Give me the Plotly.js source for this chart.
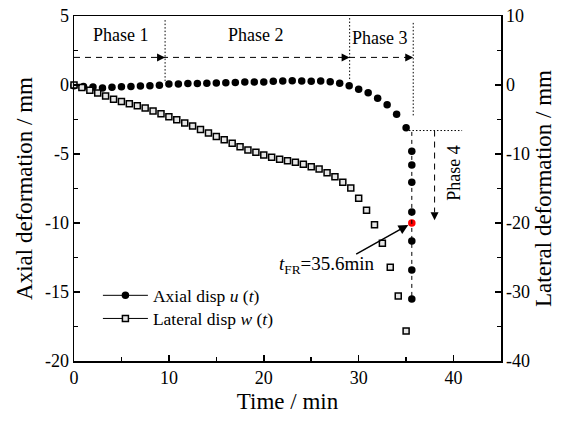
<!DOCTYPE html>
<html>
<head>
<meta charset="utf-8">
<script src="https://cdn.plot.ly/plotly-3.0.1.min.js"></script>
<style>html,body{margin:0;padding:0;background:#fff;}#chart{width:566px;height:421px;}</style>
</head>
<body>
<div id="chart"></div>
<script>
// ---- data ----
const axialTime = [0,1,2,3,4,5,6,7,8,9,10,11,12,13,14,15,16,17,18,19,20,21,22,23,24,25,26,27,28,29,30,31,32,33,34,35.0,35.6,35.6,35.6,35.6,35.6,35.6,35.6,35.6];
const axialDisp = [-0.05,-0.1,-0.15,-0.22,-0.17,-0.12,-0.1,-0.07,-0.05,-0.02,0.07,0.08,0.1,0.1,0.12,0.14,0.16,0.18,0.22,0.22,0.22,0.27,0.29,0.31,0.29,0.27,0.29,0.24,0.12,-0.05,-0.31,-0.56,-0.96,-1.43,-2.12,-3.1,-4.8,-5.8,-7.05,-9.2,-10.0,-11.3,-13.4,-15.5];
const failureIndex = 40; // t_FR = 35.6 min point (red)

const lateralTime = [0,0.83,1.67,2.5,3.33,4.17,5,5.83,6.67,7.5,8.33,9.17,10,10.83,11.67,12.5,13.33,14.17,15,15.83,16.67,17.5,18.33,19.17,20,20.83,21.67,22.5,23.33,24.17,25,25.83,26.67,27.5,28.33,29.17,30,30.83,31.67,32.5,33.33,34.17,35];
const lateralDisp = [0,-0.35,-0.75,-1.15,-1.6,-2.05,-2.4,-2.7,-3.0,-3.35,-3.75,-4.15,-4.6,-5.05,-5.5,-5.95,-6.45,-6.95,-7.45,-7.95,-8.45,-8.94,-9.42,-9.75,-10.14,-10.48,-10.77,-10.97,-11.2,-11.49,-11.84,-12.17,-12.71,-13.29,-14.1,-14.93,-16.42,-18.16,-20.25,-22.94,-26.42,-30.58,-35.65];

const xTicks = [0,10,20,30,40];
const xTickText = ['0','10','20','30','40'];
const xMinor = [5,15,25,35];
const yTicks = [-20,-15,-10,-5,0,5];
const yTickText = ['-20','-15','-10','-5','0','5'];
const yMinor = [-17.5,-12.5,-7.5,-2.5,2.5];
const y2Ticks = [-40,-30,-20,-10,0,10];
const y2TickText = ['-40','-30','-20','-10','0','10'];
const y2Minor = [-35,-25,-15,-5,5];

// phase boundaries (min)
const phaseBounds = [9.6, 29.05, 35.75];
const phaseLabels = ['Phase 1','Phase 2','Phase 3','Phase 4'];

const FONT = 'Liberation Serif';
const txt = (size)=>({family:FONT, size:size, color:'#000', weight:'normal', shadow:'none'});

const axialColors = axialDisp.map((v,i)=> i===failureIndex ? '#ff0000' : '#000000');

const traces = [
  {x: lateralTime, y: lateralDisp, yaxis:'y2', mode:'markers', type:'scatter', showlegend:false, cliponaxis:false,
   marker:{symbol:'square', size:6, color:'#e6e6e6', line:{color:'#000', width:1.5}}},
  {x: axialTime, y: axialDisp, mode:'markers', type:'scatter', showlegend:false, cliponaxis:false,
   marker:{symbol:'circle', size:7.5, color:axialColors, line:{width:0}}},
  // legend entries
  {x:[null], y:[null], mode:'lines+markers', type:'scatter', name:'Axial disp <i>u</i> (<i>t</i>)', legend:'legend',
   line:{color:'#000', width:1}, marker:{symbol:'circle', size:7.5, color:'#000'}},
  {x:[null], y:[null], mode:'lines+markers', type:'scatter', name:'Lateral disp <i>w</i> (<i>t</i>)', legend:'legend2',
   line:{color:'#000', width:1}, marker:{symbol:'square', size:6, color:'#e6e6e6', line:{color:'#000', width:1.5}}}
];

const dotted = {color:'#000', width:1, dash:'1.5px,2px'};
const dashed = {color:'#000', width:1, dash:'6px,5px'};

const shapes = [
  {type:'line', xref:'x', yref:'y', x0:phaseBounds[0], x1:phaseBounds[0], y0:4.7, y1:0.15, line:dotted},
  {type:'line', xref:'x', yref:'y', x0:phaseBounds[1], x1:phaseBounds[1], y0:4.85, y1:0.4, line:dotted},
  {type:'line', xref:'x', yref:'y', x0:phaseBounds[2], x1:phaseBounds[2], y0:4.5, y1:-2.3, line:dotted},
  {type:'line', xref:'x', yref:'y', x0:35.6, x1:35.6, y0:-3.4, y1:-15.5, line:{color:'#000', width:1, dash:'4px,4px'}},
  {type:'line', xref:'x', yref:'y', x0:35.3, x1:40.9, y0:-3.3, y1:-3.3, line:dotted},
  {type:'line', xref:'x', yref:'y', x0:0, x1:phaseBounds[2]-0.6, y0:2, y1:2, line:dashed},
  {type:'line', xref:'x', yref:'y', x0:38, x1:38, y0:-3.3, y1:-9.2, line:dashed}
];

const arrowHead = (x,y,ax,ay)=>({x:x, y:y, xref:'x', yref:'y', ax:ax, ay:ay, text:'', showarrow:true,
  arrowhead:2, arrowsize:1.6, arrowwidth:1, arrowcolor:'#000'});

const annotations = [
  arrowHead(phaseBounds[0],2,-9,0),
  arrowHead(phaseBounds[1],2,-9,0),
  arrowHead(phaseBounds[2],2,-9,0),
  arrowHead(38,-9.8,0,-9),
  {x:4.95, y:3.62, xref:'x', yref:'y', text:phaseLabels[0], showarrow:false, font:txt(18)},
  {x:19.2, y:3.62, xref:'x', yref:'y', text:phaseLabels[1], showarrow:false, font:txt(18)},
  {x:32.3, y:3.38, xref:'x', yref:'y', text:phaseLabels[2], showarrow:false, font:txt(18)},
  {x:40.1, y:-6.4, xref:'x', yref:'y', text:phaseLabels[3], textangle:-90, showarrow:false, font:txt(18)},
  {x:axialTime[failureIndex], y:axialDisp[failureIndex], xref:'x', yref:'y', axref:'x', ayref:'y', ax:29.58, ay:-12.32,
   text:'', showarrow:true, arrowhead:2, arrowsize:1.3, arrowwidth:1.5, arrowcolor:'#000', standoff:4},
  {x:26.7, y:-13.04, xref:'x', yref:'y', text:'<i>t</i><sub>FR</sub>=35.6min', showarrow:false, font:txt(19)}
];

const axisBase = {showline:true, linecolor:'#000', linewidth:1.5, ticks:'inside', ticklen:6, tickwidth:1.5, tickcolor:'#000',
  showgrid:false, zeroline:false, tickfont:txt(18), tickmode:'array'};

const legendBase = {x:0.056, xanchor:'left', yanchor:'middle', bgcolor:'rgba(0,0,0,0)', borderwidth:0,
  font:txt(17.5), itemwidth:45, tracegroupgap:0};

const layout = {
  width:566, height:421,
  margin:{l:74, r:65, t:16, b:60, pad:0},
  paper_bgcolor:'#fff', plot_bgcolor:'#fff',
  font:txt(18),
  showlegend:true,
  legend: Object.assign({}, legendBase, {y:0.19}),
  legend2: Object.assign({}, legendBase, {y:0.123}),
  xaxis: Object.assign({}, axisBase, {range:[0,45], mirror:true, tickvals:xTicks, ticktext:xTickText,
    minor:{tickvals:xMinor, ticks:'inside', ticklen:4, tickwidth:1.5, tickcolor:'#000'},
    title:{text:'Time / min', font:txt(23), standoff:6}}),
  yaxis: Object.assign({}, axisBase, {range:[-20,5], tickvals:yTicks, ticktext:yTickText,
    minor:{tickvals:yMinor, ticks:'inside', ticklen:4, tickwidth:1.5, tickcolor:'#000'},
    title:{text:'Axial deformation / mm', font:txt(23), standoff:6}}),
  yaxis2: Object.assign({}, axisBase, {range:[-40,10], overlaying:'y', side:'right', anchor:'x', tickvals:y2Ticks, ticktext:y2TickText,
    minor:{tickvals:y2Minor, ticks:'inside', ticklen:4, tickwidth:1.5, tickcolor:'#000'},
    title:{text:'Lateral deformation / mm', font:txt(23), standoff:6}}),
  shapes: shapes,
  annotations: annotations
};

Plotly.newPlot('chart', traces, layout, {displayModeBar:false, staticPlot:true});
</script>
</body>
</html>
